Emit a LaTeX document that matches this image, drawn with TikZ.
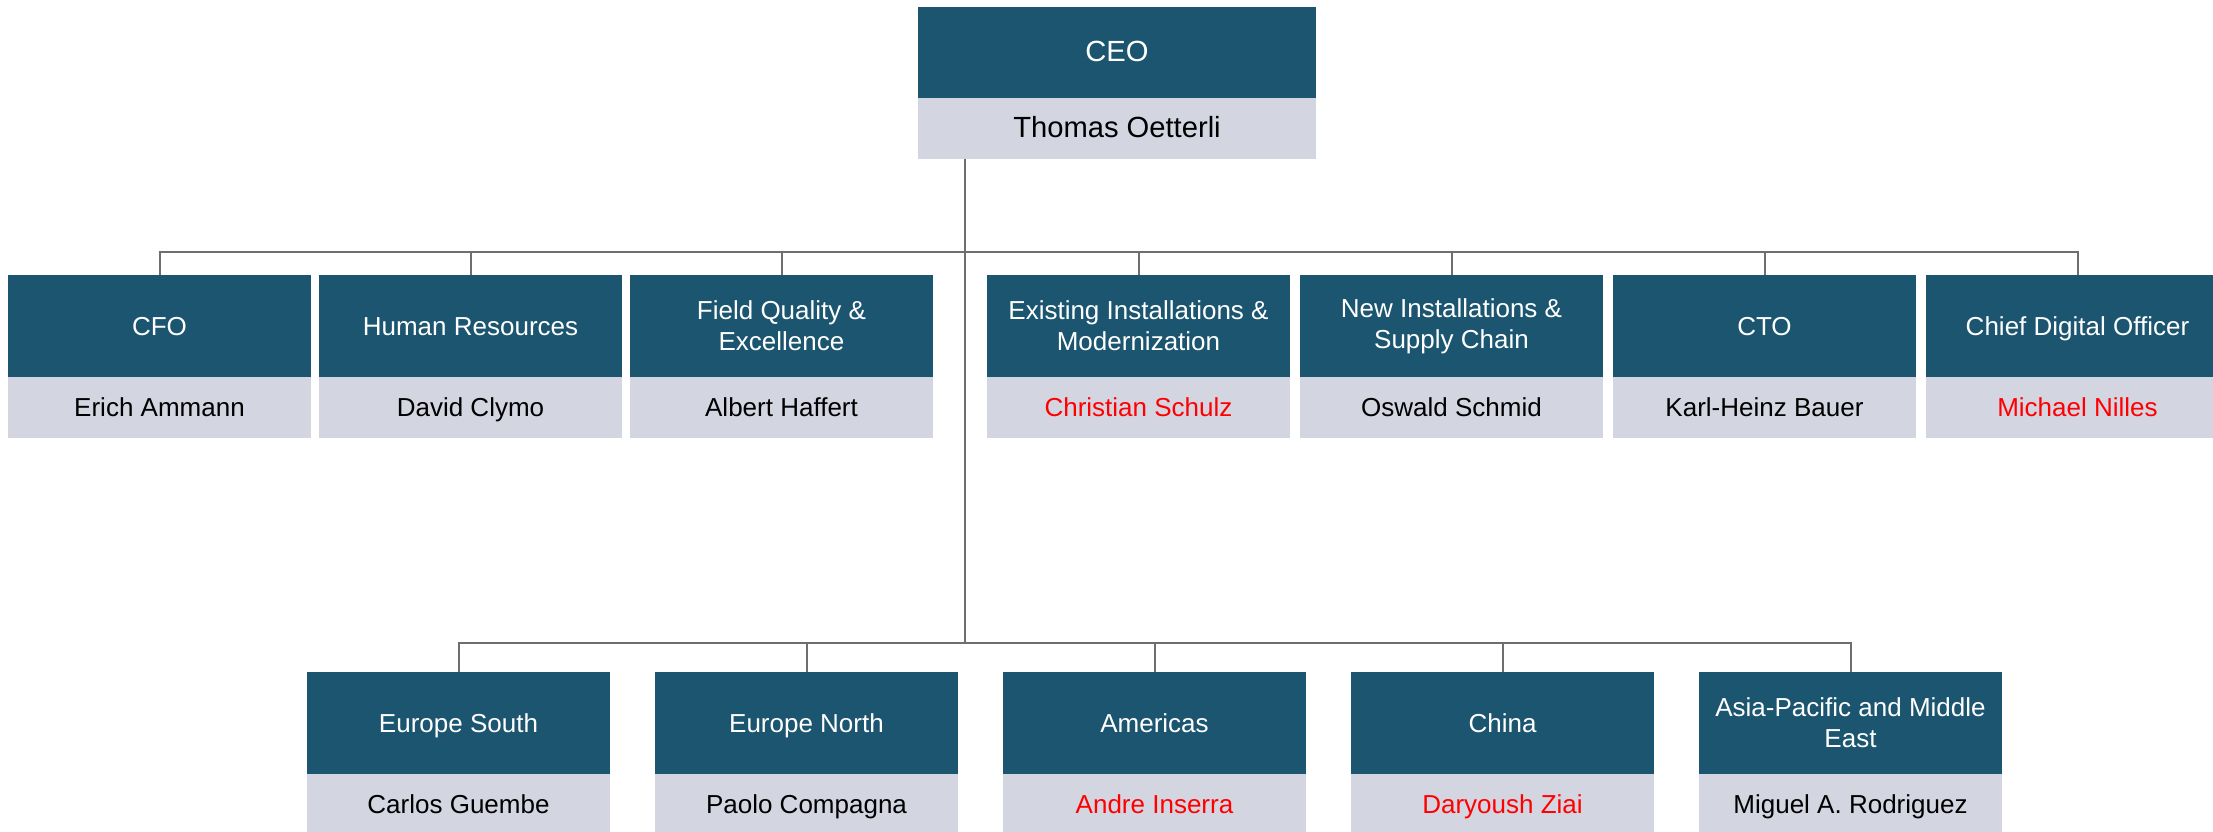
\documentclass[tikz,border=0pt]{standalone}
\usepackage{fontspec}
\setmainfont{Liberation Sans}
\usetikzlibrary{positioning}

\definecolor{rolefill}{HTML}{1B556F}
\definecolor{namefill}{HTML}{D3D5E1}
\definecolor{linegray}{HTML}{6E6E6E}

\begin{document}
\begin{tikzpicture}[node distance=0pt,
  unit/.style={minimum width=3.03cm,inner sep=0pt,outer sep=0pt,font=\fontsize{7.4}{8.8}\selectfont},
  role2/.style={unit,fill=rolefill,text=white,minimum height=1.02cm,align=center},
  role/.style={role2,text height=0.72em,text depth=0.2em},
  person/.style={unit,fill=namefill,text=black,minimum height=0.61cm,text height=0.72em,text depth=0.2em},
  newhire/.style={text=red},
  link/.style={draw=linegray,line width=0.02cm}]

  \path[use as bounding box] (0,0) rectangle (22.13,-8.32);
  \clip (0,0) rectangle (22.13,-8.32);

  % CEO
  \node[role,minimum width=3.98cm,minimum height=0.91cm,font=\fontsize{8.3}{10}\selectfont,
    anchor=north west] (ceo) at (9.18,-0.07) {CEO};
  \node[person,minimum width=3.98cm,font=\fontsize{8.3}{10}\selectfont] (ceo-n) [below=of ceo] {Thomas Oetterli};

  % executive board
  \node[role,anchor=north west] (cfo) at (0.08,-2.75) {CFO};
  \node[role] (hr) [right=0.08cm of cfo] {Human Resources};
  \node[role2] (fq) [right=0.08cm of hr] {Field Quality \&\\Excellence};
  \node[role2,anchor=north west] (ei) at (9.87,-2.75) {Existing Installations \&\\Modernization};
  \node[role2] (ni) [right=0.10cm of ei] {New Installations \&\\Supply Chain};
  \node[role] (cto) [right=0.10cm of ni] {CTO};
  \node[role] (cdo) [right=0.10cm of cto] {Chief Digital Officer};

  \node[person] (cfo-n) [below=of cfo] {Erich Ammann};
  \node[person] (hr-n) [below=of hr] {David Clymo};
  \node[person] (fq-n) [below=of fq] {Albert Haffert};
  \node[person,newhire] (ei-n) [below=of ei] {Christian Schulz};
  \node[person] (ni-n) [below=of ni] {Oswald Schmid};
  \node[person] (cto-n) [below=of cto] {Karl-Heinz Bauer};
  \node[person,newhire] (cdo-n) [below=of cdo] {Michael Nilles};

  % regions
  \node[role,anchor=north west] (eus) at (3.07,-6.72) {Europe South};
  \node[role] (eun) [right=0.45cm of eus] {Europe North};
  \node[role] (am) [right=0.45cm of eun] {Americas};
  \node[role] (cn) [right=0.45cm of am] {China};
  \node[role2] (ap) [right=0.45cm of cn] {Asia-Pacific and Middle\\East};

  \node[person] (eus-n) [below=of eus] {Carlos Guembe};
  \node[person] (eun-n) [below=of eun] {Paolo Compagna};
  \node[person,newhire] (am-n) [below=of am] {Andre Inserra};
  \node[person,newhire] (cn-n) [below=of cn] {Daryoush Ziai};
  \node[person] (ap-n) [below=of ap] {Miguel A. Rodriguez};

  % reporting lines
  \coordinate (board) at (9.65,-2.52);
  \coordinate (region) at (9.65,-6.43);
  \draw[link] (ceo-n.south -| board) -- (region);
  \draw[link] (cfo.north) -- (cfo.north |- board) -- (cdo.north |- board) -- (cdo.north);
  \foreach \n in {hr,fq,ei,ni,cto}
    \draw[link] (\n.north) -- (\n.north |- board);
  \draw[link] (eus.north) -- (eus.north |- region) -- (ap.north |- region) -- (ap.north);
  \foreach \n in {eun,am,cn}
    \draw[link] (\n.north) -- (\n.north |- region);
\end{tikzpicture}
\end{document}
